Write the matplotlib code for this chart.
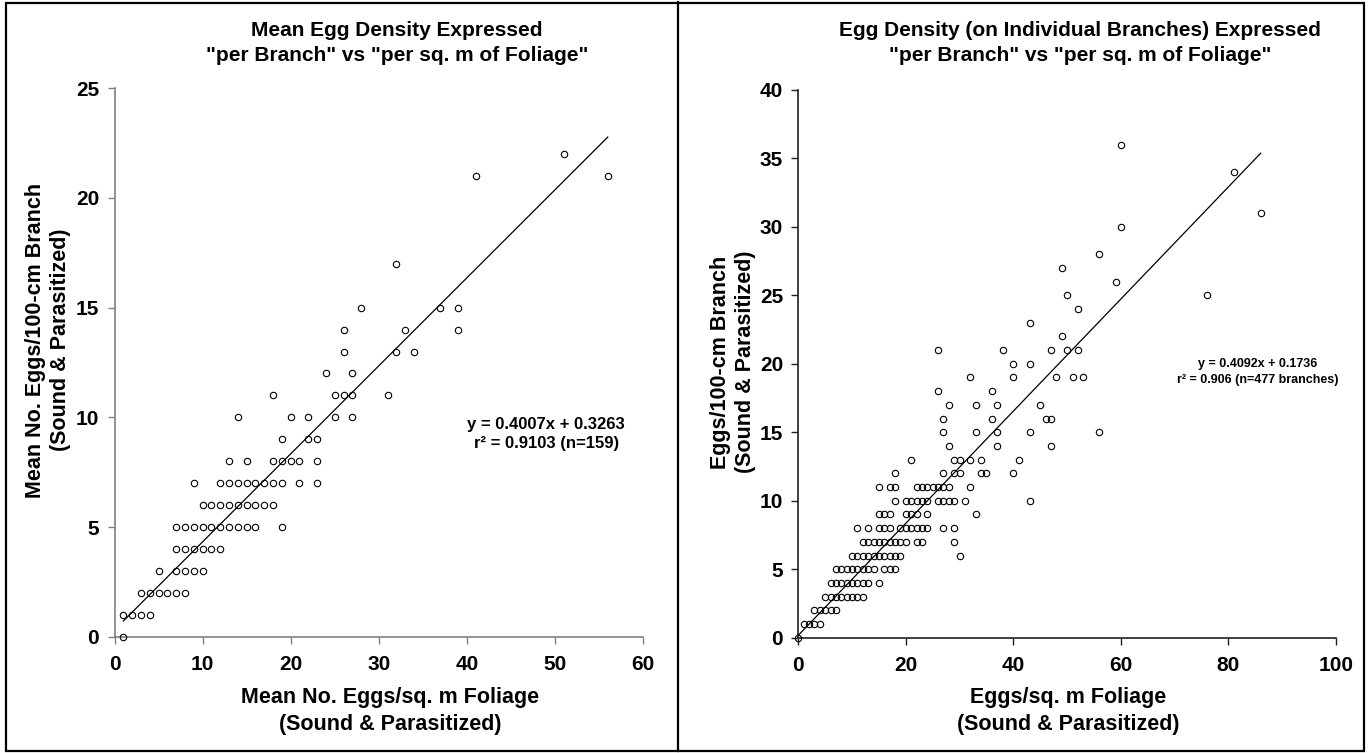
import matplotlib
matplotlib.use('Agg')
import matplotlib.pyplot as plt
from matplotlib.lines import Line2D
from matplotlib.patches import Rectangle
import numpy as np

plt.rcParams['font.family'] = ['Liberation Sans', 'DejaVu Sans']
plt.rcParams['font.weight'] = 'bold'

# left panel: mean eggs per sq. m foliage vs mean eggs per 100-cm branch (distinct points)
mean_rows = {
    0: [1],
    1: [1, 2, 3, 4],
    2: [3, 4, 5, 6, 7, 8],
    3: [5, 7, 8, 9, 10],
    4: [7, 8, 9, 10, 11, 12],
    5: [7, 8, 9, 10, 11, 12, 13, 14, 15, 16, 19],
    6: [10, 11, 12, 13, 14, 15, 16, 17, 18],
    7: [9, 12, 13, 14, 15, 16, 17, 18, 19, 21, 23],
    8: [13, 15, 18, 19, 20, 21, 23],
    9: [19, 22, 23],
    10: [14, 20, 22, 25, 27],
    11: [18, 25, 26, 27, 31],
    12: [24, 27],
    13: [26, 32, 34],
    14: [26, 33, 39],
    15: [28, 37, 39],
    17: [32],
    21: [41, 56],
    22: [51],
}
mean_slope, mean_icpt = 0.4007, 0.3263

# right panel: individual branches
branch_rows = {
    0: [0],
    1: [1, 2, 3, 4],
    2: [3, 4, 5, 6, 7],
    3: [5, 6, 7, 8, 9, 10, 11, 12],
    4: [6, 7, 8, 9, 10, 11, 12, 13, 15],
    5: [7, 8, 9, 10, 11, 12, 13, 14, 16, 17, 18],
    6: [10, 11, 12, 13, 14, 15, 16, 17, 18, 19, 30],
    7: [12, 13, 14, 15, 16, 17, 18, 19, 20, 22, 23, 29],
    8: [11, 13, 15, 16, 17, 19, 20, 21, 22, 23, 24, 27, 29],
    9: [15, 16, 17, 20, 21, 22, 24, 33],
    10: [18, 20, 21, 22, 23, 24, 26, 27, 28, 29, 31, 43],
    11: [15, 17, 18, 22, 23, 24, 25, 26, 27, 28, 32],
    12: [18, 27, 29, 30, 34, 35, 40],
    13: [21, 29, 30, 32, 34, 41],
    14: [28, 37, 47],
    15: [27, 33, 37, 43, 56],
    16: [27, 36, 46, 47],
    17: [28, 33, 37, 45],
    18: [26, 36],
    19: [32, 40, 48, 51, 53],
    20: [40, 43],
    21: [26, 38, 47, 50, 52],
    22: [49],
    23: [43],
    24: [52],
    25: [50, 76],
    26: [59],
    27: [49],
    28: [56],
    30: [60],
    31: [86],
    34: [81],
    36: [60],
}
branch_slope, branch_icpt = 0.4092, 0.1736


def unpack(rows):
    xs, ys = [], []
    for yv, xl in rows.items():
        for xv in xl:
            xs.append(xv)
            ys.append(yv)
    return np.array(xs, float), np.array(ys, float)


W, H = 1371, 753
fig = plt.figure(figsize=(W / 100, H / 100), dpi=100)

ax1 = fig.add_axes([114.5 / W, 1 - 637 / H, (643 - 114.5) / W, (637 - 88) / H])
ax2 = fig.add_axes([798.3 / W, 1 - 637.7 / H, (1336 - 798.3) / W, (637.7 - 89.7) / H])


def style(ax, xmax, ymax, xstep, ystep, col):
    ax.set_xlim(0, xmax)
    ax.set_ylim(0, ymax)
    ax.set_xticks(np.arange(0, xmax + 1, xstep))
    ax.set_yticks(np.arange(0, ymax + 1, ystep))
    for s in ['top', 'right']:
        ax.spines[s].set_visible(False)
    for s in ['left', 'bottom']:
        ax.spines[s].set_color(col)
        ax.spines[s].set_linewidth(1.2)
    ax.tick_params(axis='both', direction='out', length=5, width=1, color=col,
                   labelsize=15)
    ax.tick_params(axis='x', pad=8)
    ax.tick_params(axis='y', pad=6)
    for lab in ax.get_xticklabels() + ax.get_yticklabels():
        lab.set_fontweight('bold')


style(ax1, 60, 25, 10, 5, '#808080')
style(ax2, 100, 40, 20, 5, '#202020')

for ax, rows, m, b in [(ax1, mean_rows, mean_slope, mean_icpt),
                       (ax2, branch_rows, branch_slope, branch_icpt)]:
    x, y = unpack(rows)
    xx = np.array([x.min(), x.max()])
    ax.plot(xx, m * xx + b, color='black', lw=0.9, zorder=2)
    ax.plot(x, y, 'o', mfc='none', mec='black', ms=4.6, mew=0.8,
            clip_on=False, zorder=3)

ax1.text(49, 9.25, 'y = 0.4007x + 0.3263\nr² = 0.9103 (n=159)', ha='center',
         va='center', fontsize=12, fontweight='bold', linespacing=1.35)
ax2.text(85.5, 19.4, 'y = 0.4092x + 0.1736\nr² = 0.906 (n=477 branches)', ha='center',
         va='center', fontsize=9, fontweight='bold', linespacing=1.45)

fig.text(397 / W, 1 - 43 / H, 'Mean Egg Density Expressed\n"per Branch" vs "per sq. m of Foliage"',
         ha='center', va='center', fontsize=15, fontweight='bold', linespacing=1.42)
fig.text(1080 / W, 1 - 43 / H,
         'Egg Density (on Individual Branches) Expressed\n"per Branch" vs "per sq. m of Foliage"',
         ha='center', va='center', fontsize=15, fontweight='bold', linespacing=1.42)

fig.text(390 / W, 1 - 711 / H, 'Mean No. Eggs/sq. m Foliage\n(Sound & Parasitized)',
         ha='center', va='center', fontsize=15.5, fontweight='bold', linespacing=1.33)
fig.text(1068 / W, 1 - 711 / H, 'Eggs/sq. m Foliage\n(Sound & Parasitized)',
         ha='center', va='center', fontsize=15.5, fontweight='bold', linespacing=1.33)

fig.text(48 / W, 1 - 340 / H, 'Mean No. Eggs/100-cm Branch\n(Sound & Parasitized)',
         ha='center', va='center', rotation=90, fontsize=15.5, fontweight='bold', linespacing=1.25)
fig.text(733 / W, 1 - 362 / H, 'Eggs/100-cm Branch\n(Sound & Parasitized)',
         ha='center', va='center', rotation=90, fontsize=15.5, fontweight='bold', linespacing=1.25)

# outer frame and divider
fig.add_artist(Rectangle((6 / W, 2 / H), (1364 - 6) / W, (750 - 2) / H, transform=fig.transFigure,
                         fill=False, edgecolor='black', lw=1.6))
fig.add_artist(Line2D([678 / W, 678 / W], [2 / H, 751 / H], transform=fig.transFigure,
                      color='black', lw=1.6))

fig.savefig('out.png', dpi=100, facecolor='white')
